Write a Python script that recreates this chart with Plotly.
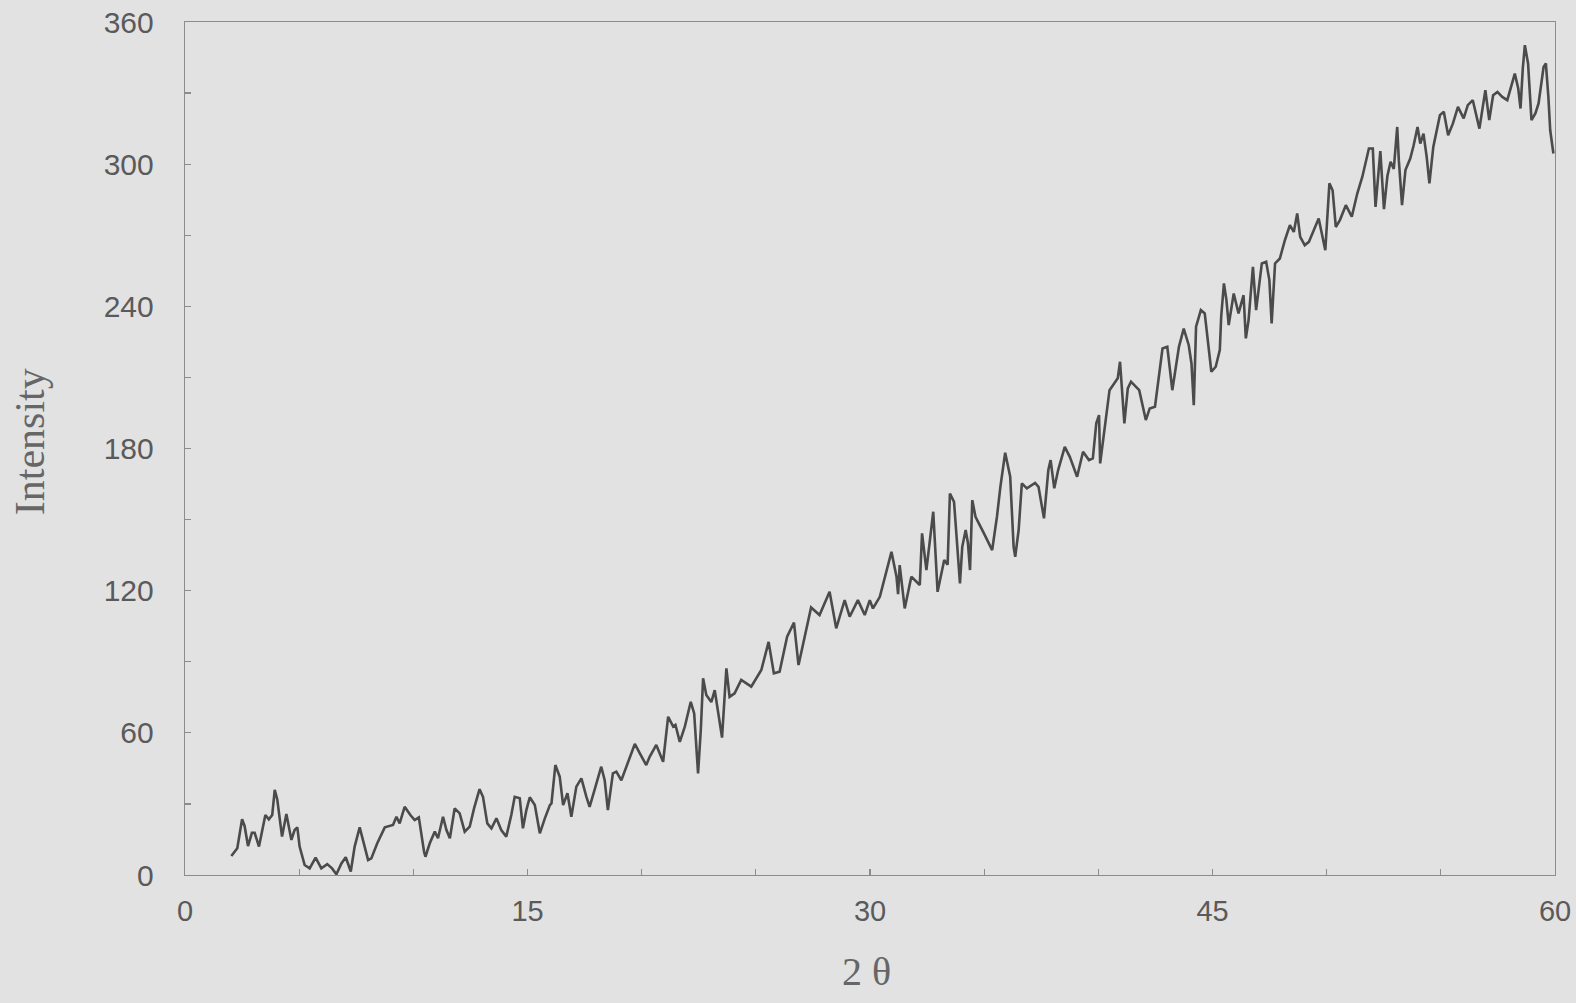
import plotly.graph_objects as go

# 2-theta (degrees) and intensity values
two_theta = [
    2.03, 2.29, 2.50, 2.61, 2.76, 2.93, 3.05, 3.24, 3.52, 3.67, 3.82, 3.93, 4.04, 4.25, 4.44,
    4.66, 4.80, 4.92, 5.02, 5.24, 5.46, 5.72, 5.97, 6.23, 6.44, 6.63, 6.85, 7.04, 7.26, 7.43,
    7.65, 7.84, 8.02, 8.16, 8.42, 8.75, 9.11, 9.26, 9.40, 9.62, 9.87, 10.06, 10.24, 10.47, 10.53,
    10.72, 10.94, 11.08, 11.30, 11.45, 11.60, 11.81, 12.03, 12.25, 12.47, 12.66, 12.90, 13.05, 13.24, 13.42,
    13.64, 13.85, 14.07, 14.29, 14.44, 14.66, 14.80, 14.95, 15.10, 15.32, 15.54, 15.76, 15.98, 16.05, 16.22,
    16.41, 16.56, 16.75, 16.92, 17.14, 17.36, 17.58, 17.72, 17.94, 18.23, 18.38, 18.52, 18.74, 18.89, 19.11,
    19.40, 19.70, 19.92, 20.20, 20.35, 20.64, 20.94, 21.16, 21.38, 21.48, 21.67, 21.89, 22.15, 22.30, 22.47,
    22.59, 22.69, 22.83, 23.05, 23.20, 23.52, 23.71, 23.85, 24.07, 24.36, 24.80, 25.24, 25.56, 25.79, 26.04,
    26.37, 26.67, 26.87, 27.10, 27.42, 27.79, 28.23, 28.52, 28.89, 29.11, 29.47, 29.77, 29.99, 30.13, 30.43,
    30.94, 31.16, 31.23, 31.30, 31.52, 31.81, 32.18, 32.28, 32.47, 32.77, 32.96, 33.25, 33.40, 33.50, 33.68,
    33.80, 33.94, 34.04, 34.19, 34.29, 34.38, 34.48, 34.62, 34.99, 35.35, 35.56, 35.71, 35.92, 36.14, 36.29,
    36.36, 36.51, 36.65, 36.87, 37.23, 37.38, 37.62, 37.81, 37.91, 38.07, 38.24, 38.53, 38.75, 39.07, 39.33,
    39.59, 39.76, 39.91, 40.03, 40.08, 40.20, 40.49, 40.70, 40.85, 40.95, 41.07, 41.14, 41.29, 41.43, 41.79,
    42.08, 42.25, 42.48, 42.81, 43.02, 43.24, 43.38, 43.53, 43.74, 43.96, 44.08, 44.18, 44.28, 44.49, 44.66,
    44.95, 45.14, 45.32, 45.38, 45.50, 45.61, 45.71, 45.93, 46.14, 46.36, 46.46, 46.58, 46.77, 46.91, 47.16,
    47.35, 47.49, 47.59, 47.74, 47.95, 48.17, 48.39, 48.56, 48.71, 48.84, 49.04, 49.22, 49.65, 49.83, 49.94,
    50.12, 50.26, 50.40, 50.58, 50.84, 51.10, 51.34, 51.56, 51.85, 52.02, 52.14, 52.35, 52.51, 52.66, 52.80,
    52.94, 53.09, 53.16, 53.30, 53.45, 53.66, 53.81, 53.98, 54.10, 54.24, 54.38, 54.50, 54.67, 54.96, 55.13,
    55.32, 55.53, 55.75, 56.00, 56.18, 56.40, 56.69, 56.95, 57.12, 57.29, 57.48, 57.69, 57.91, 58.13, 58.24,
    58.39, 58.49, 58.59, 58.68, 58.82, 58.97, 59.14, 59.28, 59.50, 59.60, 59.71, 59.79, 59.93,
]
intensity = [
    8.0, 11.3, 23.5, 20.7, 12.2, 17.8, 17.8, 12.0, 25.3, 23.5, 25.3, 35.9, 31.9, 16.2, 25.7,
    14.8, 19.0, 20.1, 12.0, 4.2, 2.8, 7.3, 2.8, 4.6, 2.8, 0.3, 4.9, 7.5, 1.5, 12.0,
    20.1, 13.4, 6.3, 7.0, 13.4, 20.1, 21.1, 24.6, 21.8, 28.8, 25.3, 23.2, 24.3, 9.8, 7.7,
    13.4, 18.3, 15.5, 24.6, 19.0, 15.5, 28.1, 26.0, 18.3, 20.4, 28.1, 36.2, 33.0, 21.8, 19.7,
    23.9, 19.0, 16.2, 25.3, 33.0, 32.4, 19.7, 27.4, 32.8, 29.5, 17.6, 23.9, 29.5, 30.2, 46.4,
    41.5, 29.5, 34.5, 24.6, 37.3, 40.8, 33.0, 28.8, 36.0, 45.7, 40.0, 27.4, 42.9, 43.6, 40.0,
    47.1, 55.3, 51.3, 46.4, 49.9, 54.9, 47.8, 66.8, 62.6, 63.3, 56.2, 62.6, 73.1, 68.2, 42.9,
    61.2, 83.0, 76.0, 73.0, 78.0, 58.0, 87.2, 75.2, 76.7, 82.3, 79.5, 86.5, 98.4, 85.1, 85.8,
    100.6, 106.5, 88.6, 99.2, 112.9, 109.7, 119.5, 104.1, 116.0, 109.0, 116.0, 109.7, 116.0, 112.5, 117.4,
    136.4, 125.9, 118.5, 130.8, 112.5, 125.9, 122.4, 144.2, 128.7, 153.3, 119.5, 132.9, 131.0, 161.0, 157.5,
    142.7, 123.1, 138.5, 145.6, 140.0, 128.7, 158.2, 151.2, 144.2, 137.1, 151.2, 163.8, 178.2, 168.1, 138.5,
    134.3, 145.6, 165.3, 163.2, 165.5, 163.8, 150.5, 170.9, 175.1, 163.2, 170.9, 180.7, 176.5, 168.1, 178.6,
    175.1, 175.8, 190.6, 194.1, 173.7, 183.5, 204.6, 207.5, 209.6, 216.6, 200.4, 190.6, 205.4, 208.2, 204.6,
    192.0, 196.9, 197.6, 222.2, 222.9, 204.6, 213.1, 222.9, 230.6, 223.6, 215.9, 198.3, 231.4, 238.4, 237.0,
    212.4, 214.5, 221.5, 235.6, 249.7, 242.6, 232.1, 245.4, 237.0, 244.7, 226.5, 234.2, 256.7, 238.4, 258.1,
    258.8, 251.1, 232.8, 258.1, 260.2, 267.9, 274.3, 271.4, 279.2, 269.3, 265.8, 267.2, 277.1, 269.3, 263.7,
    291.9, 289.0, 273.5, 276.4, 282.7, 277.8, 287.6, 294.6, 306.6, 306.6, 282.0, 305.5, 281.0, 295.0, 301.0,
    298.0, 315.7, 301.7, 282.7, 297.5, 302.4, 308.0, 315.7, 308.7, 312.9, 303.1, 291.9, 307.3, 320.7, 322.1,
    312.2, 317.2, 324.2, 319.3, 324.9, 327.0, 315.0, 331.2, 318.6, 329.1, 330.5, 328.4, 327.0, 334.0, 338.2,
    331.9, 323.5, 340.4, 350.2, 342.5, 318.6, 321.4, 325.6, 341.0, 342.5, 328.4, 314.3, 304.5,
]

x_tick_values = [0, 15, 30, 45, 60]
y_tick_values = [0, 60, 120, 180, 240, 300, 360]

BG = "#e2e2e2"
AXIS = "#8c8c8c"
LABEL = "#5a5a5a"

fig = go.Figure()
fig.add_trace(go.Scatter(
    x=two_theta, y=intensity, mode="lines",
    line=dict(color="#4b4b4b", width=2.6),
    showlegend=False, hoverinfo="skip",
))

fig.update_layout(
    width=1576, height=1003,
    margin=dict(l=185, r=21, t=22, b=128, autoexpand=False),
    paper_bgcolor=BG, plot_bgcolor=BG,
    font=dict(family="Liberation Sans, Arial, sans-serif", color=LABEL, size=30),
    xaxis=dict(
        range=[0, 60], tickvals=x_tick_values, ticktext=[str(v) for v in x_tick_values],
        showgrid=False, zeroline=False, automargin=False,
        showline=True, linecolor=AXIS, linewidth=1.3, mirror=True,
        ticks="inside", ticklen=6, tickcolor=AXIS, tickwidth=1.2,
        minor=dict(dtick=5, tick0=0, ticks="inside", ticklen=6, tickcolor=AXIS, tickwidth=1.2, showgrid=False),
        ticklabelstandoff=10, ticklabeloverflow="allow",
        tickfont=dict(size=29, color=LABEL),
    ),
    yaxis=dict(
        range=[0, 360], tickvals=y_tick_values, ticktext=[str(v) for v in y_tick_values],
        showgrid=False, zeroline=False, automargin=False,
        showline=True, linecolor=AXIS, linewidth=1.3, mirror=True,
        ticks="inside", ticklen=6, tickcolor=AXIS, tickwidth=1.2,
        minor=dict(dtick=30, tick0=0, ticks="inside", ticklen=6, tickcolor=AXIS, tickwidth=1.2, showgrid=False),
        ticklabelstandoff=24, ticklabeloverflow="allow",
        tickfont=dict(size=30, color=LABEL),
    ),
    annotations=[
        dict(text="Intensity", xref="paper", yref="paper", x=-0.113, y=0.5076,
             xanchor="center", yanchor="middle", textangle=-90, showarrow=False,
             font=dict(family="Liberation Serif, Times New Roman, serif", size=42, color="#666666")),
        dict(text="2 θ", xref="paper", yref="paper", x=0.4975, y=-0.1137,
             xanchor="center", yanchor="middle", showarrow=False,
             font=dict(family="Liberation Serif, Times New Roman, serif", size=40, color="#666666")),
    ],
)

fig.write_html(
    "out.html",
    config={"displayModeBar": False, "staticPlot": True},
    post_script="document.body.style.margin='0';document.body.style.background='#e2e2e2';",
)
